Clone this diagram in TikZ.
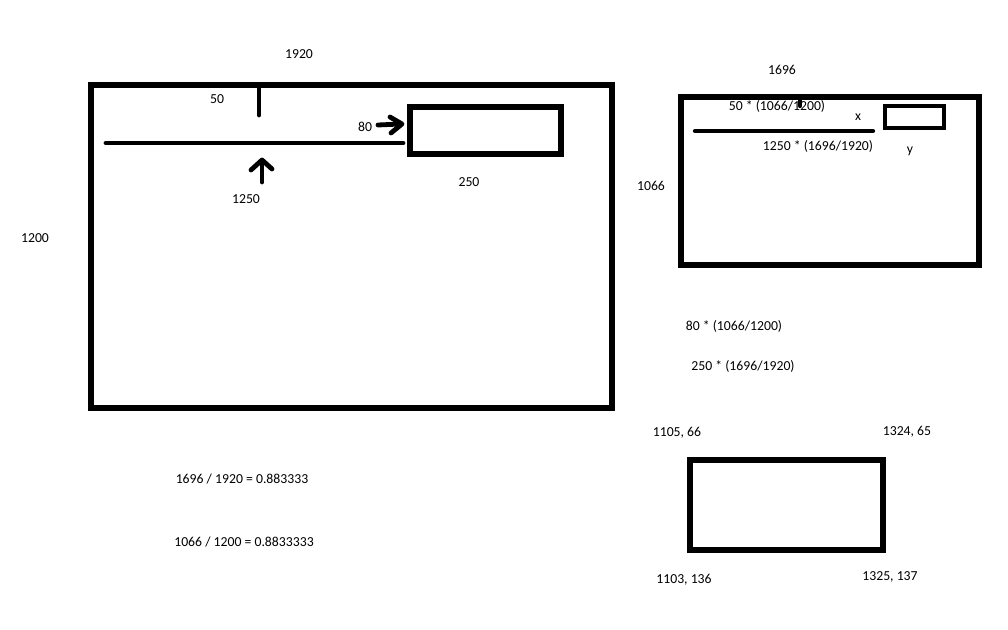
\documentclass[tikz,border=0pt]{standalone}
\usepackage{fontspec}
\setmainfont{Carlito}
\begin{document}
\begin{tikzpicture}[x=0.75pt,y=-0.75pt,
  thick box/.style={draw=black,line width=3.8pt},
  stroke/.style={draw=black,line width=3.6pt,line cap=round,line join=round},
  lbl/.style={inner sep=0pt,font=\fontsize{10.3}{12}\selectfont,text=black}]
\useasboundingbox (0,0) rectangle (1008,630);
% left big screen
\draw[thick box] (91,85) rectangle (612,408);
\draw[thick box] (410,107) rectangle (561,154);
\draw[stroke] (259,89) -- (259,115);
\draw[stroke] (106,143) -- (403,143);
\draw[stroke] (262,182) -- (262,161);
\draw[stroke] (251,170) -- (262,160) -- (272,169);
\draw[stroke] (378,125) -- (401,124);
\draw[stroke] (390,117) -- (402,124) -- (391,133);
\node[lbl] (w1) at (299,54) {1920};
\node[lbl] (h1) at (35,238) {1200};
\node[lbl] (t50) at (217,99) {50};
\node[lbl] (t80) at (365,127) {80};
\node[lbl] (t1250) at (246,199) {1250};
\node[lbl] (t250) at (469,182) {250};
% right small screen
\draw[thick box] (681,97) rectangle (979,265);
\draw[thick box,line width=3.2pt] (885,106) rectangle (944,128);
\draw[stroke,line width=3.2pt] (800,98) -- (800,106);
\draw[stroke,line width=3.2pt] (695,131) -- (873,131);
\node[lbl] (w2) at (782,70) {1696};
\node[lbl] (h2) at (651,186) {1066};
\node[lbl] (f50) at (777,106) {50 * (1066/1200)};
\node[lbl] (fx) at (858,117) {x};
\node[lbl] (f1250) at (818,146) {1250 * (1696/1920)};
\node[lbl] (fy) at (910,151) {y};
\node[lbl] (f80) at (734,326) {80 * (1066/1200)};
\node[lbl] (f250) at (743,366) {250 * (1696/1920)};
% coordinates rectangle
\draw[thick box] (690,460) rectangle (883,550);
\node[lbl] (c1) at (677,433) {1105, 66};
\node[lbl] (c2) at (907,432) {1324, 65};
\node[lbl] (c3) at (684,580) {1103, 136};
\node[lbl] (c4) at (890,577) {1325, 137};
% ratios
\node[lbl] (r1) at (242,479) {1696 / 1920 = 0.883333};
\node[lbl] (r2) at (244,542) {1066 / 1200 = 0.8833333};
\end{tikzpicture}
\end{document}
